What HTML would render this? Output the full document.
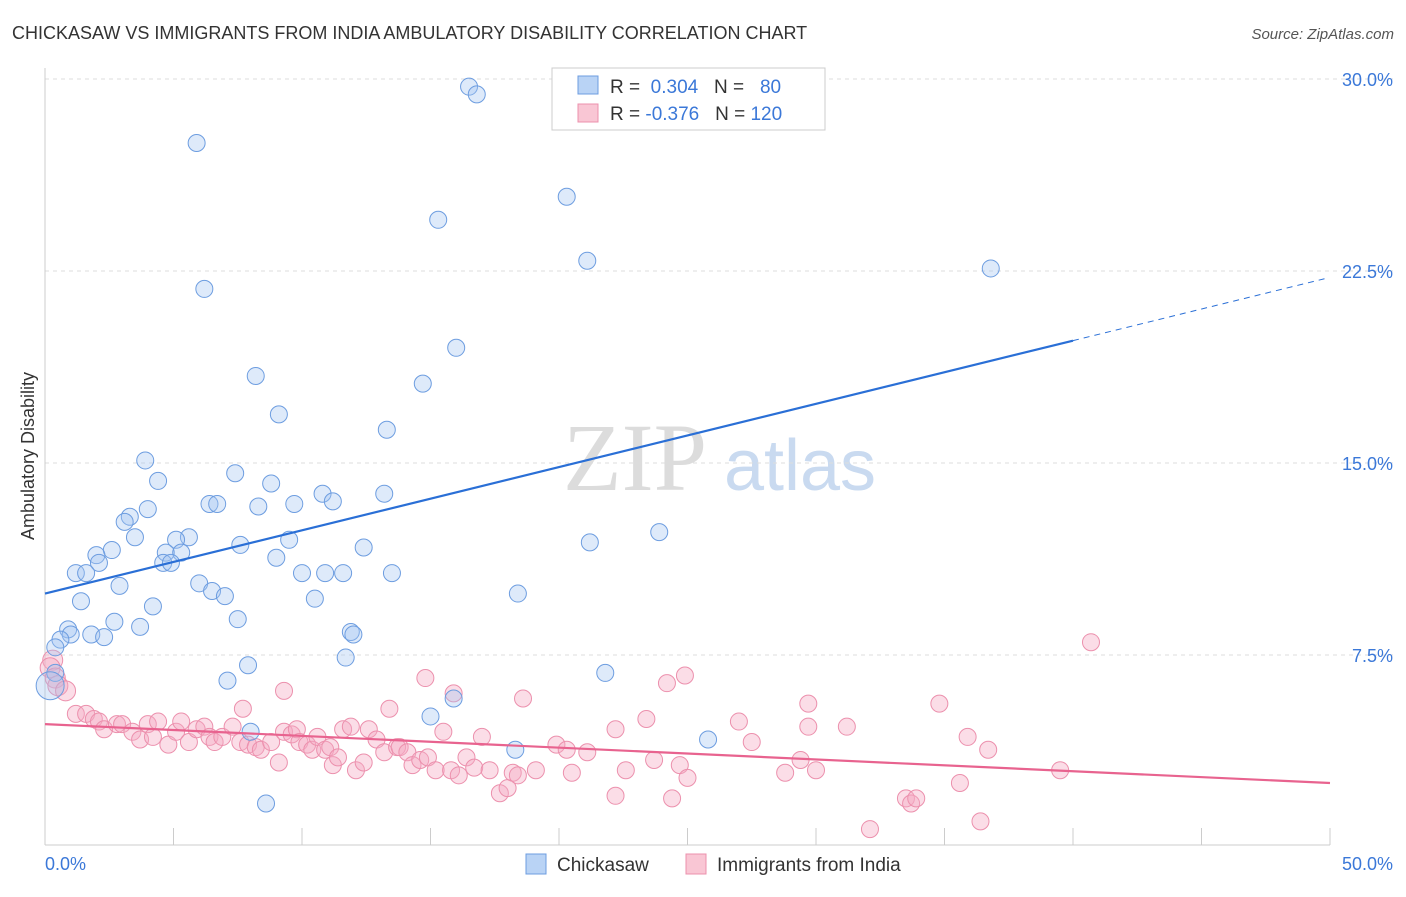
<!DOCTYPE html>
<html><head><meta charset="utf-8"><style>
body{margin:0;background:#fff;font-family:"Liberation Sans",sans-serif}
svg text{font-family:"Liberation Sans",sans-serif}
</style></head><body>
<svg id="chart" width="1406" height="892" xmlns="http://www.w3.org/2000/svg">
<text x="12" y="39" font-size="18" fill="#333">CHICKASAW VS IMMIGRANTS FROM INDIA AMBULATORY DISABILITY CORRELATION CHART</text>
<text x="1394" y="39" font-size="15" fill="#555" font-style="italic" text-anchor="end">Source: ZipAtlas.com</text>
<g><text x="635" y="490" font-size="96" fill="#dcdcdc" style="font-family:'Liberation Serif',serif" text-anchor="middle">ZIP</text><text x="800" y="490" font-size="72" fill="#c9daf0" text-anchor="middle">atlas</text></g>
<g id="grid"></g><g id="axes"></g><g id="pink"></g><g id="blue"></g><g id="lines"></g>
<text transform="translate(34,456) rotate(-90)" font-size="18" fill="#333" text-anchor="middle">Ambulatory Disability</text>
<text x="45" y="870" font-size="18" fill="#3b78d8">0.0%</text>
<text x="1393" y="870" font-size="18" fill="#3b78d8" text-anchor="end">50.0%</text>
<g>
<rect x="552" y="68" width="273" height="62" fill="#fff" stroke="#ccc"/>
<rect x="578" y="76" width="20" height="18" fill="#b9d3f5" stroke="#6d9de0"/>
<rect x="578" y="104" width="20" height="18" fill="#f9c6d4" stroke="#ec90ad"/>
<text x="610" y="93" font-size="19" fill="#333">R = <tspan fill="#3b78d8">&#160;0.304</tspan>&#160;&#160;&#160;N = <tspan fill="#3b78d8">&#160;&#160;80</tspan></text>
<text x="610" y="120" font-size="19" fill="#333">R = <tspan fill="#3b78d8">-0.376</tspan>&#160;&#160;&#160;N = <tspan fill="#3b78d8">120</tspan></text>
</g>
<g>
<rect x="526" y="854" width="20" height="20" fill="#b9d3f5" stroke="#6d9de0"/>
<text x="557" y="871" font-size="19" fill="#333">Chickasaw</text>
<rect x="686" y="854" width="20" height="20" fill="#f9c6d4" stroke="#ec90ad"/>
<text x="717" y="871" font-size="19" fill="#333">Immigrants from India</text>
</g>
</svg>
<script>
const yTicks=[7.5,15,22.5,30];
const yTickLabels=["7.5%","15.0%","22.5%","30.0%"];
const xTicks=[0,5,10,15,20,25,30,35,40,45,50];
const blueX=[16.5,16.8,5.9,20.3,15.3,21.1,36.8,6.2,16.0,8.2,14.7,9.1,13.3,3.9,7.4,4.4,8.8,10.8,13.2,6.4,6.7,9.7,11.2,8.3,4.0,3.3,3.1,3.5,5.6,5.1,9.5,7.6,12.4,21.2,23.9,2.6,2.0,4.7,5.3,4.6,4.9,2.1,9.0,1.2,1.6,10.0,10.9,11.6,13.5,6.0,2.9,6.5,7.0,10.5,18.4,1.4,4.2,7.5,2.7,3.7,0.9,1.0,1.8,2.3,11.9,12.0,0.6,0.4,11.7,7.9,0.4,7.1,21.8,0.2,15.9,15.0,8.0,18.3,25.8,8.6];
const blueY=[29.7,29.4,27.5,25.4,24.5,22.9,22.6,21.8,19.5,18.4,18.1,16.9,16.3,15.1,14.6,14.3,14.2,13.8,13.8,13.4,13.4,13.4,13.5,13.3,13.2,12.9,12.7,12.1,12.1,12.0,12.0,11.8,11.7,11.9,12.3,11.6,11.4,11.5,11.5,11.1,11.1,11.1,11.3,10.7,10.7,10.7,10.7,10.7,10.7,10.3,10.2,10.0,9.8,9.7,9.9,9.6,9.4,8.9,8.8,8.6,8.5,8.3,8.3,8.2,8.4,8.3,8.1,7.8,7.4,7.1,6.8,6.5,6.8,6.3,5.8,5.1,4.5,3.8,4.2,1.7];
const pinkX=[40.7,0.3,0.2,0.4,0.5,0.8,14.8,24.2,24.9,15.9,18.6,9.3,7.7,34.8,29.7,27.0,31.2,29.7,23.4,22.2,1.2,1.6,1.9,2.1,2.3,2.8,3.0,3.4,3.7,4.0,4.2,4.4,4.8,5.1,5.3,5.6,5.9,6.2,6.4,6.6,6.9,7.3,7.6,7.9,8.2,8.4,8.8,9.1,9.3,9.6,9.8,9.9,10.2,10.4,10.6,10.9,11.1,11.2,11.4,11.6,11.9,12.1,12.4,12.6,12.9,13.2,13.4,13.7,13.8,14.1,14.3,14.6,14.9,15.2,15.5,15.8,16.1,16.4,16.7,17.0,17.3,17.7,18.0,18.2,18.4,19.1,19.9,20.3,20.5,21.1,22.2,22.6,23.7,24.4,24.7,25.0,27.5,28.8,29.4,30.0,32.1,33.5,33.7,33.9,35.6,35.9,36.7,36.4,39.5];
const pinkY=[8.0,7.3,7.0,6.6,6.3,6.1,6.6,6.4,6.7,6.0,5.8,6.1,5.4,5.6,5.6,4.9,4.7,4.7,5.0,4.6,5.2,5.2,5.0,4.9,4.6,4.8,4.8,4.5,4.2,4.8,4.3,4.9,4.0,4.5,4.9,4.1,4.6,4.7,4.3,4.1,4.3,4.7,4.1,4.0,3.9,3.8,4.1,3.3,4.5,4.4,4.6,4.1,4.0,3.8,4.3,3.8,3.9,3.2,3.5,4.6,4.7,3.0,3.3,4.6,4.2,3.7,5.4,3.9,3.9,3.7,3.2,3.4,3.5,3.0,4.5,3.0,2.8,3.5,3.1,4.3,3.0,2.1,2.3,2.9,2.8,3.0,4.0,3.8,2.9,3.7,2.0,3.0,3.4,1.9,3.2,2.7,4.1,2.9,3.4,3.0,0.7,1.9,1.7,1.9,2.5,4.3,3.8,1.0,3.0];
const blueFit=[9.9,0.247];
const pinkFit=[4.8,-0.046];
const NS="http://www.w3.org/2000/svg";
const xS=v=>45+v*25.7;
const yS=v=>847-v*25.6;
function mk(parent,tag,attrs){const e=document.createElementNS(NS,tag);for(const k in attrs)e.setAttribute(k,attrs[k]);document.getElementById(parent).appendChild(e);return e;}
yTicks.forEach((t,i)=>{
 const l=mk('grid','line',{x1:45,x2:1395,y1:yS(t),y2:yS(t),stroke:'#ddd','stroke-dasharray':'4,4'});
 
 
 const tx=mk('grid','text',{x:1393,y:yS(t)+7,'font-size':18,fill:'#3b78d8','text-anchor':'end'});
 tx.textContent=yTickLabels[i];
 
 
});
const ax=mk('axes','line',{x1:45,x2:45,y1:68,y2:845,stroke:'#ccc'});


const bx=mk('axes','line',{x1:45,x2:1330,y1:845,y2:845,stroke:'#ccc'});


xTicks.forEach(t=>{
 const l=mk('axes','line',{x1:xS(t),x2:xS(t),y1:828,y2:845,stroke:'#ccc'});
 
 
});
pinkX.forEach((x,i)=>{
 const c=mk('pink','circle',{cx:xS(x),cy:yS(pinkY[i]),r:(i>0&&i<6)?10:8.5,fill:'rgba(246,170,195,0.4)',stroke:'#ec90ad','stroke-width':1});
 
 
});
blueX.forEach((x,i)=>{
 const c=mk('blue','circle',{cx:xS(x),cy:yS(blueY[i]),r:x<0.3?14:8.5,fill:'rgba(160,195,240,0.35)',stroke:'#6d9de0','stroke-width':1});
 
 
});
const bl=mk('lines','line',{x1:xS(0),y1:yS(blueFit[0]),x2:xS(40),y2:yS(blueFit[0]+blueFit[1]*40),stroke:'#2a6fd6','stroke-width':2.2});


const bd=mk('lines','line',{x1:xS(40),y1:yS(blueFit[0]+blueFit[1]*40),x2:xS(49.8),y2:yS(blueFit[0]+blueFit[1]*49.8),stroke:'#2a6fd6','stroke-width':1,'stroke-dasharray':'6,5'});


const pl=mk('lines','line',{x1:xS(0),y1:yS(pinkFit[0]),x2:xS(50),y2:yS(pinkFit[0]+pinkFit[1]*50),stroke:'#e8638f','stroke-width':2.2});


</script>
</body></html>
